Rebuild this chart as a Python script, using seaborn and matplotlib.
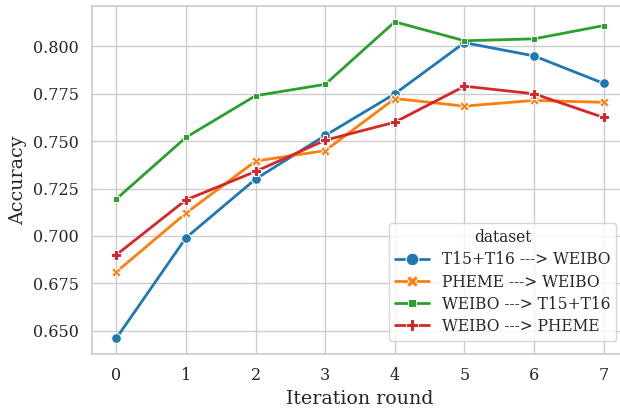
import numpy as np
import pandas as pd
import seaborn as sns
import matplotlib.pyplot as plt

rounds = [0, 1, 2, 3, 4, 5, 6, 7]
t1516_weibo = [0.646, 0.699, 0.730, 0.753, 0.775, 0.802, 0.795, 0.7805]
pheme_weibo = [0.681, 0.712, 0.7395, 0.745, 0.7725, 0.7685, 0.7715, 0.7705]
weibo_t1516 = [0.7195, 0.752, 0.774, 0.780, 0.813, 0.803, 0.804, 0.811]
weibo_pheme = [0.690, 0.719, 0.734, 0.7505, 0.760, 0.779, 0.775, 0.7625]
names = ["T15+T16 ---> WEIBO", "PHEME ---> WEIBO",
         "WEIBO ---> T15+T16", "WEIBO ---> PHEME"]

series = [t1516_weibo, pheme_weibo, weibo_t1516, weibo_pheme]
df = pd.DataFrame({
    "Iteration round": rounds * len(names),
    "Accuracy": np.concatenate(series),
    "dataset": np.repeat(names, len(rounds)),
})

sns.set_theme(style="whitegrid", font="DejaVu Serif", palette="tab10")
plt.rcParams.update({"xtick.labelsize": 11.5, "ytick.labelsize": 11.5,
                     "axes.labelsize": 13.7, "legend.fontsize": 11.2,
                     "legend.title_fontsize": 11.2})

fig = plt.figure(figsize=(6.2, 4.08), dpi=100)
# the original was cropped on the right, so the axes run past the edge
ax = fig.add_axes([92 / 620, 54 / 408, 536 / 620, 348 / 408])
sns.lineplot(data=df, x="Iteration round", y="Accuracy", hue="dataset",
             style="dataset", markers=True, dashes=False, markersize=7,
             linewidth=2, ax=ax)
ax.legend(title="dataset", loc="lower right", bbox_to_anchor=(0.993, 0.015),
          handlelength=2.2, labelspacing=0.33, markerscale=1.3)
fig.savefig("out.png")
plt.close(fig)
